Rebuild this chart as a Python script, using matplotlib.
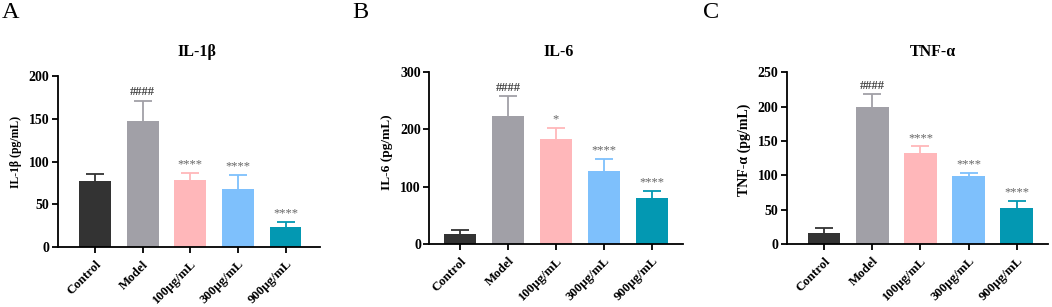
import numpy as np
import matplotlib.pyplot as plt

plt.rcParams['font.family'] = ['Liberation Serif', 'DejaVu Serif']
plt.rcParams['font.weight'] = 'bold'

groups = ["Control", "Model", "100μg/mL", "300μg/mL", "900μg/mL"]
colors = ["#333333", "#a1a0a7", "#ffb7ba", "#7ec0fc", "#0398b2"]

il1b_mean = [77, 147, 78, 68, 23]
il1b_err = [9, 24, 9, 16, 6]
il6_mean = [17, 223, 183, 127, 81]
il6_err = [7, 35, 19, 21, 11]
tnf_mean = [16, 199, 132, 99, 52]
tnf_err = [7, 19, 10, 5, 11]

il1b_marks = ["", "####", "****", "****", "****"]
il6_marks = ["", "####", "*", "****", "****"]
tnf_marks = ["", "####", "****", "****", "****"]

panels = [
    ("A", "IL-1β", "IL-1β (pg/mL)", il1b_mean, il1b_err, il1b_marks, 200, 50),
    ("B", "IL-6", "IL-6 (pg/mL)", il6_mean, il6_err, il6_marks, 300, 100),
    ("C", "TNF-α", "TNF-α (pg/mL)", tnf_mean, tnf_err, tnf_marks, 250, 50),
]

# axes boxes in figure fraction: left, bottom, width, height
boxes = [
    [0.055, 0.195, 0.249, 0.557],
    [0.408, 0.205, 0.241, 0.560],
    [0.748, 0.205, 0.248, 0.560],
]
xlims = [(-0.78, 4.72), (-0.65, 4.65), (-0.78, 4.65)]
letter_x = [0.002, 0.335, 0.668]
title_x = [0.187, 0.531, 0.887]
ylab_size = [8.5, 9.6, 10]
ylab_y = [0.555, 0.535, 0.547]

fig = plt.figure(figsize=(10.52, 3.07), dpi=100)

for i, (letter, title, ylab, mean, err, marks, ymax, step) in enumerate(panels):
    ax = fig.add_axes(boxes[i])
    x = np.arange(len(groups))
    ax.bar(x, mean, width=0.67, color=colors, zorder=2)
    for xi, m, e, c, s in zip(x, mean, err, colors, marks):
        # upper error bar only, drawn behind the bar
        ax.vlines(xi, m, m + e, color=c, linewidth=1.3, zorder=1)
        ax.plot(xi, m + e, marker='_', markersize=13, mew=1.3, color=c, zorder=1)
        if s:
            hashes = s.startswith('#')
            ax.text(xi, m + e + ymax * 0.015, s, ha='center', va='bottom',
                    fontsize=9, color='#444444' if hashes else '#666666',
                    fontweight='bold' if hashes else 'normal')
    ax.set_ylim(0, ymax)
    ax.set_xlim(*xlims[i])
    ax.set_yticks(np.arange(0, ymax + 1, step))
    ax.set_xticks(x)
    ax.set_xticklabels(groups, rotation=45, ha='right', rotation_mode='anchor',
                       fontsize=9.3, fontweight='bold')
    ax.tick_params(axis='y', labelsize=10, width=1.3, length=4.5, pad=1.5)
    ax.tick_params(axis='x', width=1.3, length=4.5)
    for lab in ax.get_yticklabels():
        lab.set_fontweight('bold')
    ax.spines['top'].set_visible(False)
    ax.spines['right'].set_visible(False)
    ax.spines['left'].set_linewidth(1.3)
    ax.spines['bottom'].set_linewidth(1.3)
    ax.set_ylabel(ylab, fontsize=ylab_size[i], fontweight='bold', labelpad=5)
    ax.yaxis.label.set_y(ylab_y[i])
    fig.text(title_x[i], 0.83, title, ha='center', va='center', fontsize=11.5,
             fontweight='bold')
    fig.text(letter_x[i], 0.958, letter, ha='left', va='center', fontsize=17.5,
             fontweight='normal')

fig.savefig("out.png", dpi=100)
